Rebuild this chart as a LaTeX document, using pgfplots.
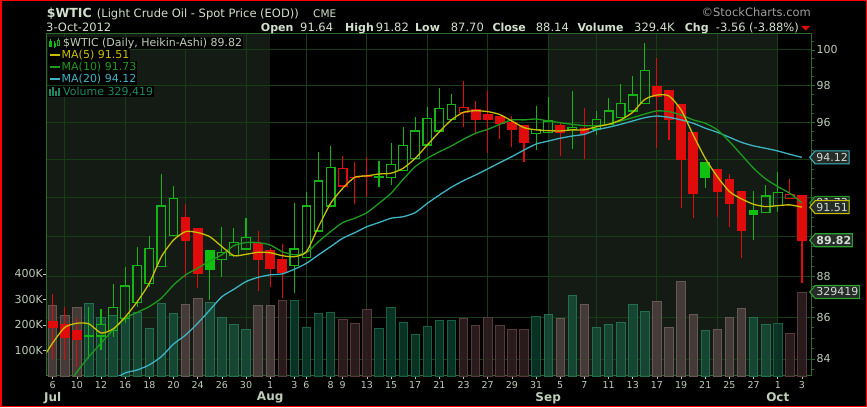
\documentclass[border=0pt]{standalone}
\usepackage{pgfplots}
\pgfplotsset{compat=1.18}
\usepackage{pgfplotstable}
\usepackage{fontspec}
\setmainfont{DejaVu Sans}
\usetikzlibrary{shapes.symbols}

\definecolor{shade}{HTML}{141A14}
\definecolor{gridc}{HTML}{173D17}
\definecolor{framec}{HTML}{2A6A2A}
\definecolor{labc}{HTML}{BECDB8}
\definecolor{titc}{HTML}{D2E0CC}
\definecolor{cred}{HTML}{E00C0C}
\definecolor{cgreen}{HTML}{10C010}
\definecolor{cgreenh}{HTML}{14B414}
\definecolor{ma5c}{HTML}{C8C000}
\definecolor{ma10c}{HTML}{1C9C1C}
\definecolor{ma20c}{HTML}{3CB4C4}
\definecolor{volc}{HTML}{1E8A68}
\definecolor{upS}{HTML}{184A38}
\definecolor{upSb}{HTML}{246E50}
\definecolor{upB}{HTML}{0A3828}
\definecolor{upBb}{HTML}{186044}
\definecolor{dnS}{HTML}{4A3E3C}
\definecolor{dnSb}{HTML}{685854}
\definecolor{dnB}{HTML}{2E1E20}
\definecolor{dnBb}{HTML}{583A3C}
\definecolor{flagbg}{HTML}{262C28}
\definecolor{flagtxt}{HTML}{D4DCD4}
\definecolor{lastc}{HTML}{2EA02E}

% Heikin-Ashi candles, Jul 6 - Oct 3 2012 (i = trading day), volume in K
\pgfplotstableread{
i o h l c g v
0 85.79 87.14 83.99 85.52 0 276
1 85.66 86.52 83.95 85.03 0 236
2 85.34 85.95 83.61 84.91 0 269
3 85.08 86.52 84.00 85.12 1 285
4 85.10 86.39 84.43 85.66 1 230
5 85.34 87.62 85.06 86.49 1 236
6 85.95 88.49 85.71 87.53 1 226
7 86.73 89.50 86.52 88.53 1 250
8 87.67 90.04 87.50 89.41 1 187
9 88.49 93.24 88.49 91.57 1 285
10 90.04 92.63 90.04 91.97 1 246
11 90.99 91.66 87.91 89.80 0 281
12 90.43 90.43 87.42 88.16 0 305
13 89.29 89.33 86.84 88.33 1 289
14 88.83 90.51 87.99 89.21 1 230
15 89.03 90.43 88.99 89.72 1 203
16 89.38 90.94 89.33 89.97 1 183
17 89.67 90.31 87.30 88.83 0 276
18 89.28 89.41 87.47 88.38 0 276
19 88.83 89.62 86.93 88.19 0 295
20 88.53 91.71 87.20 89.38 1 295
21 88.96 92.32 88.96 91.57 1 191
22 90.29 94.42 90.29 92.87 1 246
23 91.57 94.74 91.57 93.60 1 251
24 92.61 94.19 92.61 93.54 0 222
25 93.08 93.86 91.68 93.06 0 207
26 93.15 94.12 92.02 93.13 0 261
27 93.06 93.94 92.55 93.08 1 187
28 93.07 94.87 92.67 93.72 1 269
29 93.42 95.73 93.42 94.73 1 212
30 94.07 96.31 94.07 95.53 1 163
31 94.78 96.85 94.78 96.22 1 196
32 95.53 97.86 95.53 96.76 1 217
33 96.13 97.55 96.13 96.98 1 217
34 96.55 98.28 95.73 96.82 0 226
35 96.67 97.18 95.37 96.13 0 197
36 96.44 97.73 94.37 96.13 0 230
37 96.31 96.31 95.09 95.91 0 197
38 96.00 96.36 94.69 95.59 0 183
39 95.82 95.82 93.89 94.92 0 183
40 95.39 96.91 94.51 95.59 1 235
41 95.46 97.37 95.46 96.07 1 242
42 95.82 96.00 94.21 95.46 0 226
43 95.59 97.73 94.57 95.73 1 315
44 95.64 96.76 94.04 95.39 0 281
45 95.64 96.63 95.32 96.13 1 191
46 95.86 97.31 95.86 96.62 1 203
47 96.25 98.08 96.25 97.04 1 212
48 96.62 98.56 96.62 97.49 1 281
49 97.04 100.38 97.04 98.84 1 255
50 97.95 99.57 94.64 97.40 0 291
51 97.73 97.73 95.05 96.13 0 192
52 96.98 96.98 91.49 93.98 0 369
53 95.46 95.46 90.94 92.20 0 242
54 93.86 93.86 92.52 93.05 1 178
55 93.49 93.49 91.02 92.32 0 183
56 92.96 93.23 90.51 91.68 0 230
57 92.32 92.32 88.94 90.34 0 265
58 91.33 92.37 89.83 91.11 1 230
59 91.23 92.67 91.23 92.09 1 203
60 91.59 93.36 91.25 92.28 1 207
61 91.97 92.98 91.97 92.18 0 167
62 92.09 92.09 87.70 89.82 0 329.419
}\wtic

\pgfplotstableread{
i ma5 ma10 ma20
-1 83.86 nan nan
0 84.76 nan nan
1 85.51 82.54 nan
2 85.71 83.38 nan
3 85.68 84.11 nan
4 85.24 84.75 nan
5 85.43 85.39 83.01
6 86.01 85.95 83.34
7 86.76 86.24 83.48
8 87.67 86.52 83.72
9 88.99 86.93 84.11
10 89.83 87.58 84.71
11 90.26 88.08 85.14
12 90.21 88.41 85.71
13 90.00 88.78 86.35
14 89.50 89.08 87.00
15 89.04 89.55 87.37
16 89.11 89.70 87.75
17 89.21 89.70 87.96
18 89.19 89.58 88.08
19 89.04 89.24 88.13
20 88.99 89.08 88.36
21 89.24 89.19 88.66
22 90.51 89.75 89.08
23 91.71 90.26 89.50
24 92.49 90.72 89.92
25 93.07 90.94 90.20
26 93.14 91.23 90.51
27 93.24 91.71 90.72
28 93.28 92.23 90.94
29 93.54 92.96 91.02
30 94.07 93.63 91.23
31 94.78 94.07 91.71
32 95.49 94.42 92.14
33 96.13 94.73 92.55
34 96.55 95.09 92.89
35 96.63 95.41 93.19
36 96.58 95.62 93.51
37 96.42 95.89 93.84
38 96.07 96.13 94.16
39 95.71 96.13 94.51
40 95.59 96.18 94.83
41 95.55 96.07 94.99
42 95.53 95.98 95.14
43 95.59 95.89 95.26
44 95.59 95.82 95.35
45 95.76 95.82 95.59
46 95.89 95.89 95.73
47 96.13 96.07 95.89
48 96.55 96.25 96.07
49 97.25 96.45 96.25
50 97.49 96.62 96.34
51 97.44 96.58 96.27
52 96.67 96.40 96.13
53 95.32 96.13 95.95
54 94.07 95.95 95.68
55 93.10 95.59 95.46
56 92.32 94.96 95.19
57 91.94 94.25 94.92
58 91.66 93.54 94.73
59 91.54 92.98 94.60
60 91.59 92.58 94.46
61 91.63 92.23 94.28
62 91.51 91.73 94.12
}\mas

\pgfplotsset{
  chartbase/.style={width=765pt, height=342pt, scale only axis,
    at={(46.5pt,31pt)}, anchor=south west, xmin=-0.51, xmax=62.79},
  wick1/.style={cgreenh, line width=1.1pt},
  wick0/.style={cred, line width=1.1pt},
  body11/.style={draw=cgreenh, line width=1.2pt},
  body10/.style={draw=cgreen, fill=cgreen, line width=1pt},
  body01/.style={draw=cred, line width=1.2pt},
  body00/.style={draw=cred, fill=cred, line width=1pt},
  volbar/.style={ybar, bar width=0.7, bar shift=0pt, line width=0.8pt, fill opacity=0.9},
}
\tikzset{flag/.style={signal, signal to=west, signal pointer angle=100,
  draw=#1, line width=1.1pt, fill=flagbg, text=flagtxt, inner sep=1.2pt,
  minimum height=13pt, font=\fontsize{11}{11}\selectfont, anchor=west, xshift=-2.5pt}}

\begin{document}
\begin{tikzpicture}
\useasboundingbox (0,0) rectangle (867pt,407pt);
\fill[black] (0,0) rectangle (867pt,407pt);

% background: month shading, grid, price scale
\begin{axis}[chartbase, ymode=log, ymin=83.2, ymax=100.91, axis on top,
  axis line style={framec, line width=0.8pt},
  xtick={1,6,11,16,21,26,31,36,41,45,50,55,60}, xticklabels={},
  xtick style={draw=none},
  xmajorgrids, ymajorgrids,
  grid style={gridc, line width=0.9pt},
  ytick={84,86,88,90,92,94,96,98,100},
  yticklabels={84,86,88,{},{},{},96,98,100},
  ytick pos=right, yticklabel pos=right,
  minor ytick={83.5,84,...,100.5},
  tick align=outside, major tick length=3pt, minor tick length=2pt,
  ytick style={framec, line width=0.8pt},
  yticklabel style={text=labc, font=\fontsize{11}{12}\selectfont, inner sep=2pt},
]
\addplot[fill=shade, draw=none] coordinates {(-1,80) (18,80) (18,102) (-1,102)} -- cycle;
\addplot[fill=shade, draw=none] coordinates {(41,80) (60,80) (60,102) (41,102)} -- cycle;
\end{axis}

% volume
\begin{axis}[chartbase, ymin=0, ymax=1341, clip mode=individual,
  axis x line*=bottom, axis y line*=left,
  axis line style={draw=none},
  xtick={0,2,4,6,8,10,12,14,16,18,20,21,23,24,26,28,30,32,34,36,38,40,42,44,46,48,50,52,54,56,58,60,62},
  xticklabels={6,10,12,16,18,20,24,26,30,1,3,6,8,9,13,15,17,21,23,27,29,31,5,7,11,13,17,19,21,25,27,1,3},
  ytick={100,200,300,400}, yticklabels={100K,200K,300K,400K},
  tick align=outside, major tick length=3pt,
  tick style={labc, line width=0.6pt},
  xticklabel style={text=labc, font=\fontsize{9.5}{10}\selectfont, inner sep=1pt, yshift=-1.5pt},
  yticklabel style={text=labc, font=\fontsize{11}{12}\selectfont, inner sep=0.5pt},
  extra x ticks={0,18,41,60}, extra x tick labels={Jul,Aug,Sep,Oct},
  extra x tick style={major tick length=0pt,
    xticklabel style={yshift=-13.5pt, font=\fontsize{12}{13}\selectfont\bfseries}},
]
\addplot[volbar, fill=upS, draw=upSb,
  restrict expr to domain={2*\thisrow{g}+((\thisrow{i}<18.5)||((\thisrow{i}>40.5)&&(\thisrow{i}<59.5)))}{2.5:3.5}]
  table[x=i, y=v] {\wtic};
\addplot[volbar, fill=upB, draw=upBb,
  restrict expr to domain={2*\thisrow{g}+((\thisrow{i}<18.5)||((\thisrow{i}>40.5)&&(\thisrow{i}<59.5)))}{1.5:2.5}]
  table[x=i, y=v] {\wtic};
\addplot[volbar, fill=dnS, draw=dnSb,
  restrict expr to domain={2*\thisrow{g}+((\thisrow{i}<18.5)||((\thisrow{i}>40.5)&&(\thisrow{i}<59.5)))}{0.5:1.5}]
  table[x=i, y=v] {\wtic};
\addplot[volbar, fill=dnB, draw=dnBb,
  restrict expr to domain={2*\thisrow{g}+((\thisrow{i}<18.5)||((\thisrow{i}>40.5)&&(\thisrow{i}<59.5)))}{-0.5:0.5}]
  table[x=i, y=v] {\wtic};
\node[flag=lastc] at (axis cs:62.79,329.419) {329419};
\end{axis}

% candles and moving averages
\begin{axis}[chartbase, ymode=log, ymin=83.2, ymax=100.91, hide axis, clip mode=individual]
\pgfplotstablegetrowsof{\wtic}
\pgfmathtruncatemacro\nrows{\pgfplotsretval-1}
\pgfplotsforeachungrouped \rowk in {0,...,\nrows}{%
  \pgfplotstablegetelem{\rowk}{i}\of\wtic \let\cdi\pgfplotsretval
  \pgfplotstablegetelem{\rowk}{o}\of\wtic \let\cdo\pgfplotsretval
  \pgfplotstablegetelem{\rowk}{h}\of\wtic \let\cdh\pgfplotsretval
  \pgfplotstablegetelem{\rowk}{l}\of\wtic \let\cdl\pgfplotsretval
  \pgfplotstablegetelem{\rowk}{c}\of\wtic \let\cdc\pgfplotsretval
  \pgfplotstablegetelem{\rowk}{g}\of\wtic \let\cdg\pgfplotsretval
  \pgfmathsetmacro\cdtop{max(\cdo,\cdc)}
  \pgfmathsetmacro\cdbot{min(\cdo,\cdc)}
  \pgfmathtruncatemacro\cddir{\cdc>\cdo}
  \pgfmathsetmacro\cdxl{\cdi-0.36}
  \pgfmathsetmacro\cdxr{\cdi+0.36}
  \edef\drawcandle{%
    \noexpand\addplot[wick\cdg] coordinates {(\cdi,\cdh) (\cdi,\cdtop)};
    \noexpand\addplot[wick\cdg] coordinates {(\cdi,\cdbot) (\cdi,\cdl)};
    \noexpand\addplot[body\cdg\cddir] coordinates {(\cdxl,\cdbot) (\cdxr,\cdbot) (\cdxr,\cdtop) (\cdxl,\cdtop)} -- cycle;
  }\drawcandle
}
\addplot[ma20c, line width=1.3pt, smooth, tension=0.4] table[x=i, y=ma20] {\mas};
\addplot[ma10c, line width=1.3pt, smooth, tension=0.4] table[x=i, y=ma10] {\mas};
\addplot[ma5c, line width=1.3pt, smooth, tension=0.4] table[x=i, y=ma5] {\mas};
\node[flag=ma20c] at (axis cs:62.79,94.12) {94.12};
\node[flag=ma10c] at (axis cs:62.79,91.73) {91.73};
\node[flag=ma5c] at (axis cs:62.79,91.51) {91.51};
\node[flag=lastc, font=\fontsize{11}{11}\selectfont\bfseries] at (axis cs:62.79,89.82) {89.82};
\end{axis}

% legend
\begin{scope}[every node/.style={anchor=west, fill=black, inner sep=1pt, font=\fontsize{11}{12}\selectfont}]
\node[text=labc] at (47.5pt,364pt) {\hspace{14.5pt}\$WTIC (Daily, Heikin-Ashi) 89.82};
\node[text=ma5c] at (47.5pt,352pt) {\hspace{13pt}MA(5) 91.51};
\node[text=ma10c] at (47.5pt,340pt) {\hspace{13pt}MA(10) 91.73};
\node[text=ma20c] at (47.5pt,328pt) {\hspace{13pt}MA(20) 94.12};
\node[text=volc] at (47.5pt,315.5pt) {\hspace{14.5pt}Volume 329,419};
\end{scope}
\draw[cgreenh, line width=0.7pt] (49.5pt,361pt) rectangle (51.5pt,366pt);
\draw[cgreenh, line width=0.7pt] (50.5pt,359.5pt) -- (50.5pt,368pt);
\fill[cgreen] (53.5pt,360pt) rectangle (55.5pt,364pt);
\draw[cgreenh, line width=0.7pt] (54.5pt,358.5pt) -- (54.5pt,366pt);
\draw[cgreenh, line width=0.7pt] (57.5pt,362pt) rectangle (59.5pt,367pt);
\draw[cgreenh, line width=0.7pt] (58.5pt,367pt) -- (58.5pt,369pt);
\draw[ma5c, line width=2pt] (50pt,352pt) -- (60pt,352pt);
\draw[ma10c, line width=2pt] (50pt,340pt) -- (60pt,340pt);
\draw[ma20c, line width=2pt] (50pt,328pt) -- (60pt,328pt);
\fill[volc] (49pt,311pt) rectangle (51pt,318pt);
\fill[volc] (52pt,311pt) rectangle (54pt,320pt);
\fill[volc] (55pt,311pt) rectangle (57pt,316pt);
\fill[volc] (58pt,311pt) rectangle (60pt,319pt);

% header
\begin{scope}[every node/.style={anchor=base west, inner sep=0pt, text=titc}]
\node[font=\fontsize{12.5}{14}\selectfont\bfseries] at (46.7pt,389.5pt) {\$WTIC};
\node[font=\fontsize{11.5}{13}\selectfont] at (96.7pt,389.5pt) {(Light Crude Oil - Spot Price (EOD))};
\node[font=\fontsize{10.5}{12}\selectfont] at (313pt,389.5pt) {CME};
\node[font=\fontsize{11.5}{13}\selectfont] at (46pt,375.3pt) {3-Oct-2012};
\node[font=\fontsize{11}{13}\selectfont\bfseries] at (260.7pt,375.3pt) {Open};
\node[font=\fontsize{11.5}{13}\selectfont] at (300pt,375.3pt) {91.64};
\node[font=\fontsize{11}{13}\selectfont\bfseries] at (345pt,375.3pt) {High};
\node[font=\fontsize{11.5}{13}\selectfont] at (375.7pt,375.3pt) {91.82};
\node[font=\fontsize{11}{13}\selectfont\bfseries] at (415pt,375.3pt) {Low};
\node[font=\fontsize{11.5}{13}\selectfont] at (450.7pt,375.3pt) {87.70};
\node[font=\fontsize{11}{13}\selectfont\bfseries] at (492.3pt,375.3pt) {Close};
\node[font=\fontsize{11.5}{13}\selectfont] at (535.7pt,375.3pt) {88.14};
\node[font=\fontsize{11}{13}\selectfont\bfseries] at (577.3pt,375.3pt) {Volume};
\node[font=\fontsize{11.5}{13}\selectfont] at (634pt,375.3pt) {329.4K};
\node[font=\fontsize{11}{13}\selectfont\bfseries] at (684.7pt,375.3pt) {Chg};
\node[font=\fontsize{11.5}{13}\selectfont] at (715.7pt,375.3pt) {-3.56};
\node[font=\fontsize{11.5}{13}\selectfont] at (749pt,375.3pt) {(-3.88\%)};
\node[anchor=base east, text=gray!75, font=\fontsize{11.5}{13}\selectfont] at (811pt,390.3pt) {©StockCharts.com};
\end{scope}
\fill[cred] (801pt,381pt) -- (810pt,381pt) -- (805.5pt,376.5pt) -- cycle;

\draw[red, line width=1.5pt] (0.75pt,0.75pt) rectangle (866.25pt,406.25pt);
\end{tikzpicture}
\end{document}
